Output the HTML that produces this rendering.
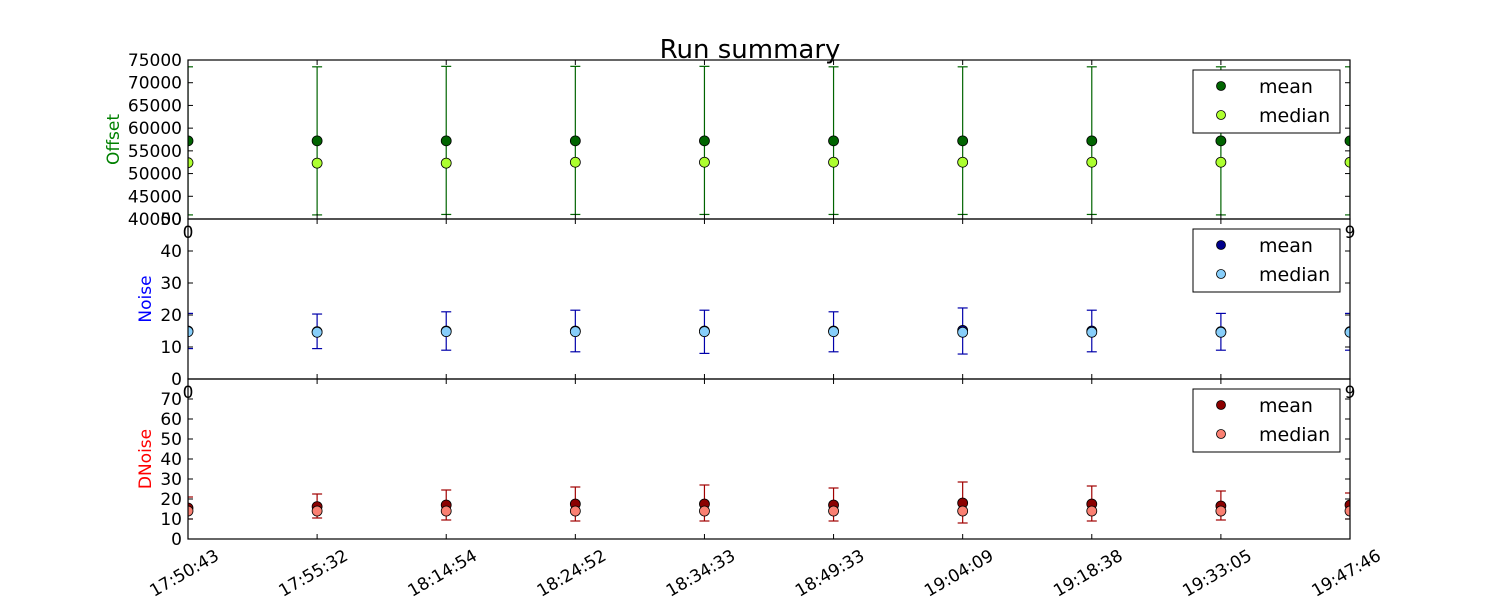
<!DOCTYPE html>
<html><head><meta charset="utf-8"><style>body{margin:0;background:#fff}svg{display:block;font-family:"DejaVu Sans","Liberation Sans",sans-serif}</style></head>
<body>
<svg id="c" width="1500" height="600"></svg>
<script>
const categories=["17:50:43","17:55:32","18:14:54","18:24:52","18:34:33","18:49:33","19:04:09","19:18:38","19:33:05","19:47:46"];
const offsetMean=[57200,57200,57200,57200,57200,57200,57200,57200,57200,57200];
const offsetMedian=[52400,52300,52300,52500,52500,52500,52500,52500,52500,52500];
const offsetLow=[40900,40900,41000,41000,41000,41000,41000,41000,40900,40900];
const offsetHigh=[73500,73500,73600,73600,73600,73500,73500,73500,73500,73500];
const noiseMean=[15,14.8,15,15,15,15,15.2,15,14.8,14.8];
const noiseMedian=[14.8,14.6,14.8,14.8,14.8,14.8,14.6,14.6,14.6,14.6];
const noiseLow=[9.5,9.5,9,8.5,8,8.5,7.8,8.5,9,9];
const noiseHigh=[20.5,20.3,21,21.5,21.5,21,22.2,21.5,20.5,20.5];
const dnoiseMean=[15.5,16.2,17,17.5,17.5,17,18,17.5,16.5,17];
const dnoiseMedian=[14,14,14,14,14,14,14,14,14,14];
const dnoiseLow=[10,10.5,9.5,9,9,9,8,9,9.5,10];
const dnoiseHigh=[21,22.5,24.5,26,27,25.5,28.5,26.5,24,23];
const offsetTicks=[40000,45000,50000,55000,60000,65000,70000,75000];
const noiseTicks=[0,10,20,30,40,50];
const dnoiseTicks=[0,10,20,30,40,50,60,70,80];

const NS="http://www.w3.org/2000/svg",svg=document.getElementById('c');
function mk(t,a,p){const e=document.createElementNS(NS,t);for(const k in a)e.setAttribute(k,a[k]);(p||svg).appendChild(e);return e;}
const L=188,R=1350;
const x=i=>L+(R-L)*i/(categories.length-1);
const t=mk('text',{x:750,y:58,'font-size':26,'text-anchor':'middle'});t.textContent='Run summary';


function panel(name,top,bot,ymin,ymax,ticks,mean,median,low,high,cm,cmed,cerr,label,lc,last,ylx){
  const y=v=>bot-(v-ymin)/(ymax-ymin)*(bot-top);
  const g=mk('g',{});
  
  
  const cid='clip-'+name;
  const cp=mk('clipPath',{id:cid},g);mk('rect',{x:L,y:top,width:R-L,height:bot-top},cp);
  const m=mk('g',{'clip-path':'url(#'+cid+')'},g);
  for(let i=0;i<categories.length;i++){
    const xi=x(i);
    const eb=mk('g',{stroke:cerr,'stroke-width':1.2},m);
    
    
    mk('line',{x1:xi,x2:xi,y1:y(low[i]),y2:y(high[i])},eb);
    mk('line',{x1:xi-5,x2:xi+5,y1:y(low[i]),y2:y(low[i])},eb);
    mk('line',{x1:xi-5,x2:xi+5,y1:y(high[i]),y2:y(high[i])},eb);
    const a=mk('circle',{cx:xi,cy:y(mean[i]),r:5,fill:cm,stroke:'#000','stroke-width':0.8},m);
    
    
    const b=mk('circle',{cx:xi,cy:y(median[i]),r:5,fill:cmed,stroke:'#000','stroke-width':0.8},m);
    
    
  }
  mk('rect',{x:L,y:top,width:R-L,height:bot-top,fill:'none',stroke:'#000','stroke-width':1.2},g);
  ticks.forEach(v=>{const yy=y(v);
    mk('line',{x1:L,x2:L+5,y1:yy,y2:yy,stroke:'#000'},g);mk('line',{x1:R,x2:R-5,y1:yy,y2:yy,stroke:'#000'},g);
    if(yy<=381&&yy>=377&&name==='dnoise')return;
    const tl=mk('text',{x:L-6,y:yy+6,'font-size':17,'text-anchor':'end'},g);tl.textContent=v;
    
    });
  categories.forEach((c,i)=>{const xi=x(i);
    mk('line',{x1:xi,x2:xi,y1:bot,y2:bot-5,stroke:'#000'},g);mk('line',{x1:xi,x2:xi,y1:top,y2:top+5,stroke:'#000'},g);
    if(last){const tl=mk('text',{'font-size':17,'text-anchor':'middle',transform:`translate(${xi-1},${bot+39}) rotate(-30)`},g);tl.textContent=c;
      
      }
  });
  if(!last){[[L,'0'],[R,'9']].forEach(([xx,s])=>{const tl=mk('text',{x:xx,y:bot+19,'font-size':17,'text-anchor':'middle'},g);tl.textContent=s;});}
  const yl=mk('text',{'font-size':17,fill:lc,'text-anchor':'middle',transform:`translate(${ylx},${(top+bot)/2}) rotate(-90)`},g);yl.textContent=label;
  
  
  const lg=mk('g',{},g);
  
  
  mk('rect',{x:1193,y:top+10,width:147,height:63,fill:'#fff',stroke:'#000','stroke-width':1},lg);
  mk('circle',{cx:1221,cy:top+26,r:4.5,fill:cm,stroke:'#000','stroke-width':0.8},lg);
  mk('circle',{cx:1221,cy:top+55,r:4.5,fill:cmed,stroke:'#000','stroke-width':0.8},lg);
  const t1=mk('text',{x:1259,y:top+33,'font-size':19},lg);t1.textContent='mean';
  const t2=mk('text',{x:1259,y:top+62,'font-size':19},lg);t2.textContent='median';
}
panel('offset',60,219,40000,75000,offsetTicks,offsetMean,offsetMedian,offsetLow,offsetHigh,'#006400','#adff2f','#006400','Offset','#008000',false,119);
panel('noise',219,379,0,50,noiseTicks,noiseMean,noiseMedian,noiseLow,noiseHigh,'#00008b','#87cefa','#0000aa','Noise','#0000ff',false,151);
panel('dnoise',379,539,0,80,dnoiseTicks,dnoiseMean,dnoiseMedian,dnoiseLow,dnoiseHigh,'#8b0000','#fa8072','#a00000','DNoise','#ff0000',true,151);
</script>
</body></html>
